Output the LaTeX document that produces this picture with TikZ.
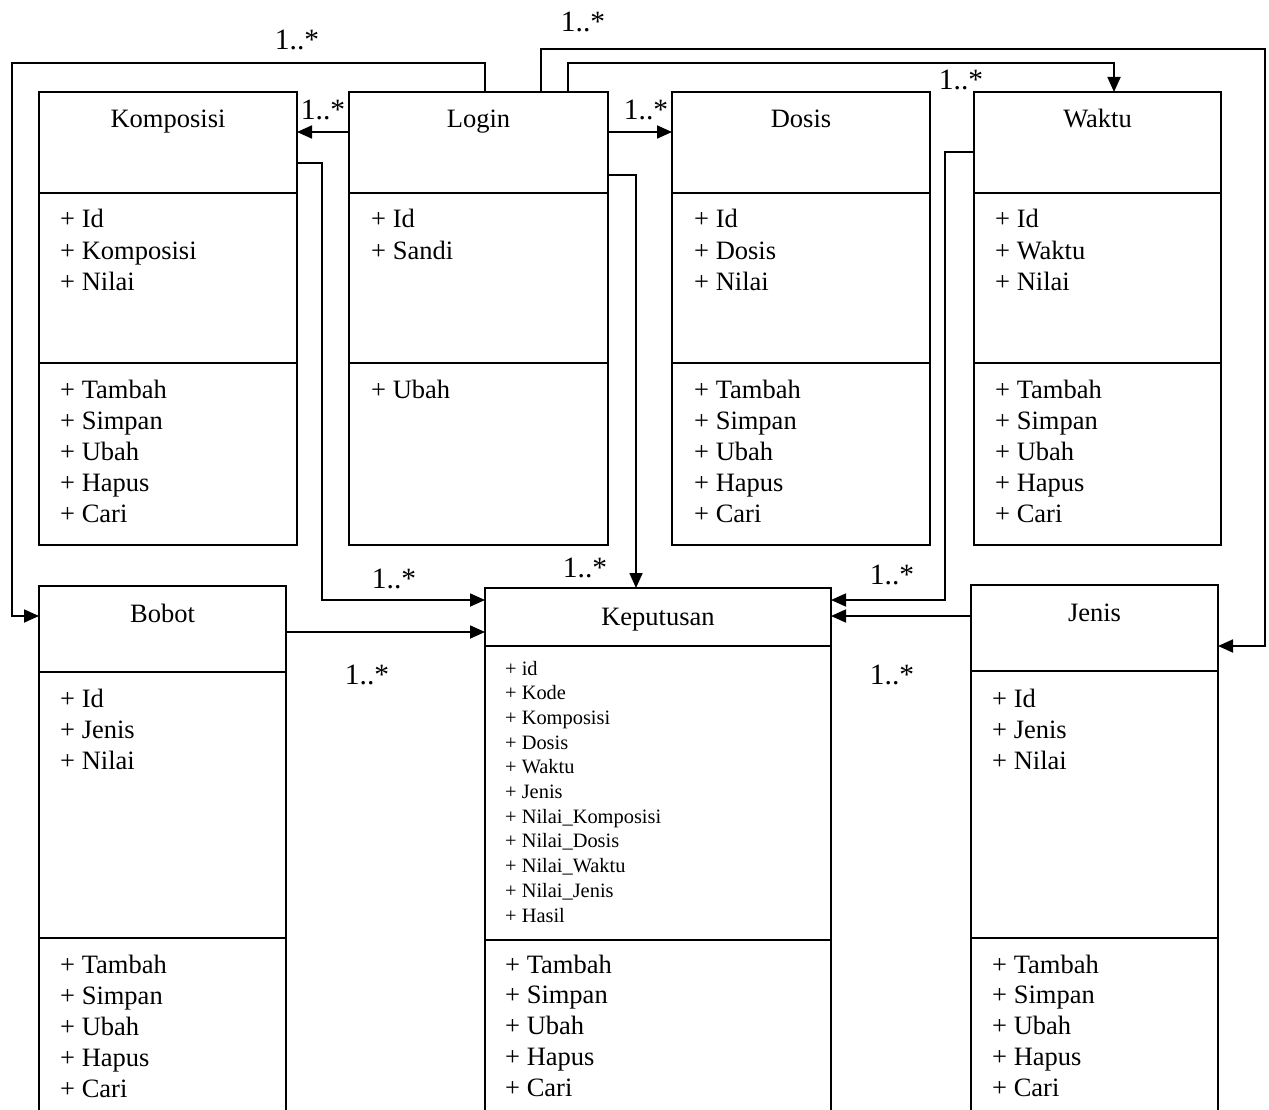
\documentclass[tikz,border=0pt]{standalone}
\usepackage{fontspec}
\setmainfont{Liberation Serif}
\usetikzlibrary{arrows.meta}

\tikzset{
  cls/.style={draw, line width=1.8pt, rectangle, anchor=north west, inner sep=0pt, outer sep=0pt},
  rule/.style={line width=1.8pt},
  link/.style={line width=1.8pt, -{Triangle[length=15pt,width=13pt]}},
  big/.style={font=\fontsize{26.5}{31}\selectfont, inner sep=0pt},
  small/.style={font=\fontsize{20.4}{24.7}\selectfont, inner sep=0pt},
  title/.style={big, anchor=base},
  mult/.style={font=\fontsize{29.5}{34}\selectfont, inner sep=0pt, anchor=base},
}

% one text line per member, first baseline at (#3,#4), spacing #5
\newcommand\members[6]{%
  \foreach \t [count=\i] in {#6}
    \node[#2, anchor=base west] (#1\i) at ({#3}, {#4+#5*(\i-1)}) {\t};}

\begin{document}
\begin{tikzpicture}[x=1pt, y=-1pt]
\useasboundingbox (0,0) rectangle (1269,1110);
\clip (0,0) rectangle (1269,1110);

% ---- class boxes ----
\node[cls, minimum width=258pt, minimum height=453pt] (komp)  at (39,92)  {};
\node[cls, minimum width=259pt, minimum height=453pt] (login) at (349,92) {};
\node[cls, minimum width=258pt, minimum height=453pt] (dosis) at (672,92) {};
\node[cls, minimum width=247pt, minimum height=453pt] (waktu) at (974,92) {};
\node[cls, minimum width=247pt, minimum height=560pt] (bobot) at (39,586) {};
\node[cls, minimum width=346pt, minimum height=560pt] (kep)   at (485,588) {};
\node[cls, minimum width=247pt, minimum height=560pt] (jenis) at (971,585) {};

% ---- compartment rules ----
\foreach \b in {komp,login,dosis,waktu}{
  \draw[rule] (\b.west |- 0,193) -- (\b.east |- 0,193);
  \draw[rule] (\b.west |- 0,363) -- (\b.east |- 0,363);
}
\draw[rule] (bobot.west |- 0,672) -- (bobot.east |- 0,672);
\draw[rule] (bobot.west |- 0,938) -- (bobot.east |- 0,938);
\draw[rule] (kep.west |- 0,646) -- (kep.east |- 0,646);
\draw[rule] (kep.west |- 0,940) -- (kep.east |- 0,940);
\draw[rule] (jenis.west |- 0,671) -- (jenis.east |- 0,671);
\draw[rule] (jenis.west |- 0,938) -- (jenis.east |- 0,938);

% ---- class names ----
\node[title] (komp-t)  at (komp.north  |- 0,128) {Komposisi};
\node[title] (login-t) at (login.north |- 0,128) {Login};
\node[title] (dosis-t) at (dosis.north |- 0,128) {Dosis};
\node[title] (waktu-t) at (waktu.north |- 0,128) {Waktu};
\node[title] (bobot-t) at (bobot.north |- 0,622) {Bobot};
\node[title] (kep-t)   at (kep.north   |- 0,625) {Keputusan};
\node[title] (jenis-t) at (jenis.north |- 0,621) {Jenis};

% ---- attributes and operations ----
\members{komp-a}{big}{60}{228}{31}{+ Id, + Komposisi, + Nilai}
\members{komp-m}{big}{60}{398}{31}{+ Tambah, + Simpan, + Ubah, + Hapus, + Cari}
\members{login-a}{big}{371}{228}{31}{+ Id, + Sandi}
\members{login-m}{big}{371}{398}{31}{+ Ubah}
\members{dosis-a}{big}{694}{228}{31}{+ Id, + Dosis, + Nilai}
\members{dosis-m}{big}{694}{398}{31}{+ Tambah, + Simpan, + Ubah, + Hapus, + Cari}
\members{waktu-a}{big}{995}{228}{31}{+ Id, + Waktu, + Nilai}
\members{waktu-m}{big}{995}{398}{31}{+ Tambah, + Simpan, + Ubah, + Hapus, + Cari}
\members{bobot-a}{big}{60}{707}{31}{+ Id, + Jenis, + Nilai}
\members{bobot-m}{big}{60}{973}{31}{+ Tambah, + Simpan, + Ubah, + Hapus, + Cari}
\members{kep-a}{small}{505}{675}{24.7}{+ id, + Kode, + Komposisi, + Dosis, + Waktu, + Jenis, + Nilai\_Komposisi, + Nilai\_Dosis, + Nilai\_Waktu, + Nilai\_Jenis, + Hasil}
\members{kep-m}{big}{505}{973}{30.8}{+ Tambah, + Simpan, + Ubah, + Hapus, + Cari}
\members{jenis-a}{big}{992}{707}{31}{+ Id, + Jenis, + Nilai}
\members{jenis-m}{big}{992}{973}{30.8}{+ Tambah, + Simpan, + Ubah, + Hapus, + Cari}

% ---- associations ----
\draw[link] (login.north -| 485,0) -- (485,63) -- (12,63) -- (12,616) -- (bobot.west |- 0,616);
\draw[link] (login.north -| 541,0) -- (541,49) -- (1265,49) -- (1265,646) -- (jenis.east |- 0,646);
\draw[link] (login.north -| 568,0) -- (568,63) -- (1114,63) -- (waktu.north -| 1114,0);
\draw[link] (login.west |- 0,132) -- (komp.east |- 0,132);
\draw[link] (login.east |- 0,132) -- (dosis.west |- 0,132);
\draw[link] (komp.east |- 0,163) -- (322,163) -- (322,600) -- (kep.west |- 0,600);
\draw[link] (login.east |- 0,175) -- (636,175) -- (kep.north -| 636,0);
\draw[link] (waktu.west |- 0,152) -- (945,152) -- (945,600) -- (kep.east |- 0,600);
\draw[link] (jenis.west |- 0,616) -- (kep.east |- 0,616);
\draw[link] (bobot.east |- 0,632) -- (kep.west |- 0,632);

% ---- multiplicities ----
\node[mult] (m1)  at (297,50)  {1..*};
\node[mult] (m2)  at (583,32)  {1..*};
\node[mult] (m3)  at (323,120) {1..*};
\node[mult] (m4)  at (646,120) {1..*};
\node[mult] (m5)  at (961,90)  {1..*};
\node[mult] (m6)  at (394,588) {1..*};
\node[mult] (m7)  at (585,577) {1..*};
\node[mult] (m8)  at (367,684) {1..*};
\node[mult] (m9)  at (892,584) {1..*};
\node[mult] (m10) at (892,684) {1..*};
\end{tikzpicture}
\end{document}
